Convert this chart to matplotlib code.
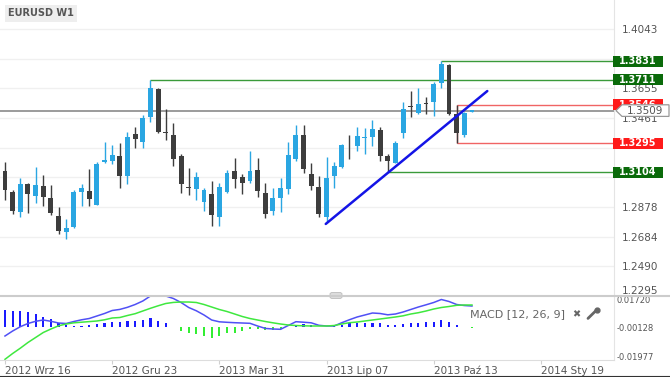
import matplotlib.pyplot as plt
import matplotlib.transforms as mtransforms
from matplotlib.patches import Rectangle, Polygon, FancyBboxPatch
from matplotlib.lines import Line2D
import numpy as np

# EURUSD weekly candles, week 0 = 2012 Wrz 16
opens = [1.3116, 1.2978, 1.2847, 1.3029, 1.2952, 1.3018, 1.2939, 1.2819, 1.2713, 1.2749,
         1.2974, 1.2983, 1.2891, 1.3171, 1.3179, 1.3212, 1.3083, 1.3356, 1.3305, 1.3465,
         1.3648, 1.3367, 1.3349, 1.3212, 1.3009, 1.2996, 1.2913, 1.2961, 1.2815, 1.2978,
         1.3114, 1.3073, 1.3048, 1.3120, 1.2972, 1.2852, 1.2935, 1.2994, 1.3190, 1.3349,
         1.3092, 1.3011, 1.2815, 1.3081, 1.3142, 1.3287, 1.3277, 1.3328, 1.3333, 1.3382,
         1.3212, 1.3169, 1.3360, 1.3541, 1.3491, 1.3561, 1.3563, 1.3688, 1.3807, 1.3487,
         1.3349, 1.3500]
highs = [1.3175, 1.2989, 1.3070, 1.3035, 1.3142, 1.3088, 1.3022, 1.2878, 1.2800, 1.2989,
         1.3029, 1.3125, 1.3171, 1.3305, 1.3284, 1.3299, 1.3367, 1.3404, 1.3480, 1.3711,
         1.3657, 1.3517, 1.3430, 1.3223, 1.3135, 1.3105, 1.3000, 1.3048, 1.3033, 1.3120,
         1.3201, 1.3094, 1.3245, 1.3197, 1.3033, 1.3000, 1.3066, 1.3305, 1.3415, 1.3415,
         1.3164, 1.3081, 1.3207, 1.3175, 1.3290, 1.3349, 1.3404, 1.3395, 1.3448, 1.3400,
         1.3223, 1.3313, 1.3563, 1.3637, 1.3655, 1.3600, 1.3698, 1.3831, 1.3814, 1.3546,
         1.3502, 1.3516]
lows = [1.2924, 1.2832, 1.2811, 1.2839, 1.2904, 1.2887, 1.2826, 1.2699, 1.2669, 1.2743,
        1.2887, 1.2887, 1.2888, 1.3164, 1.3157, 1.3004, 1.3027, 1.3262, 1.3266, 1.3436,
        1.3360, 1.3317, 1.3148, 1.2972, 1.2957, 1.2924, 1.2852, 1.2756, 1.2756, 1.2968,
        1.3000, 1.2963, 1.3037, 1.2941, 1.2804, 1.2826, 1.2847, 1.2963, 1.3181, 1.3099,
        1.2989, 1.2815, 1.2780, 1.3000, 1.3131, 1.3190, 1.3247, 1.3225, 1.3277, 1.3182,
        1.3104, 1.3164, 1.3332, 1.3469, 1.3485, 1.3485, 1.3474, 1.3655, 1.3483, 1.3295,
        1.3338, 1.3497]
closes = [1.2989, 1.2852, 1.3029, 1.2963, 1.3022, 1.2945, 1.2837, 1.2721, 1.2739, 1.2978,
          1.3004, 1.2930, 1.3160, 1.3184, 1.3218, 1.3083, 1.3336, 1.3325, 1.3459, 1.3655,
          1.3367, 1.3360, 1.3192, 1.3027, 1.3000, 1.3074, 1.2987, 1.2826, 1.3009, 1.3103,
          1.3063, 1.3037, 1.3116, 1.2985, 1.2832, 1.2939, 1.3000, 1.3218, 1.3349, 1.3125,
          1.3018, 1.2830, 1.3070, 1.3147, 1.3284, 1.3281, 1.3345, 1.3332, 1.3387, 1.3215,
          1.3179, 1.3300, 1.3517, 1.3531, 1.3550, 1.3552, 1.3681, 1.3812, 1.3485, 1.3362,
          1.3491, 1.3511]

# MACD [12, 26, 9]
macd = [-0.0068, -0.00356, -0.00077, 0.00131, 0.00274, 0.00358, 0.00274, 0.00163, 0.00131, 0.00261,
        0.00371, 0.00455, 0.00617, 0.0078, 0.00974, 0.01045, 0.01182, 0.01363, 0.0159, 0.01915,
        0.01947, 0.01915, 0.01752, 0.01493, 0.01169, 0.00955, 0.00682, 0.00358, 0.00241, 0.00209,
        0.00183, 0.00163, 0.00144, -0.00031, -0.00187, -0.00226, -0.00245, 0.00001, 0.00248, 0.00215,
        0.00176, 0.00014, -0.00031, -0.00031, 0.00183, 0.00377, 0.00553, 0.00682, 0.00812, 0.0078,
        0.00695, 0.00747, 0.00877, 0.01039, 0.01201, 0.01344, 0.01493, 0.01688, 0.01558, 0.01363,
        0.01298, 0.01266]
signal = [-0.02191, -0.01815, -0.01471, -0.01101, -0.00777, -0.00453, -0.00226, -0.00018, 0.00098, 0.00176,
          0.00215, 0.00254, 0.00293, 0.00371, 0.00488, 0.0052, 0.0065, 0.00767, 0.00942, 0.01117,
          0.01279, 0.01428, 0.01499, 0.01525, 0.01525, 0.01493, 0.01363, 0.01201, 0.01039, 0.00909,
          0.00747, 0.00585, 0.00455, 0.00358, 0.00261, 0.00176, 0.00098, 0.00034, 0.00001, -0.00018,
          -0.00031, -0.00031, -0.00031, 0.00001, 0.00098, 0.00183, 0.00228, 0.00293, 0.00358, 0.00423,
          0.00488, 0.00553, 0.0063, 0.00747, 0.00831, 0.00942, 0.01071, 0.01169, 0.01234, 0.01311,
          0.01331, 0.01331]
hist = [0.01135, 0.0109, 0.0109, 0.00986, 0.00876, 0.007, 0.00532, 0.00272, 0.00162, 0.00097,
        0.00097, 0.00162, 0.00227, 0.00311, 0.00376, 0.00376, 0.00441, 0.00441, 0.00486, 0.00597,
        0.00441, 0.00311, 0.00052, -0.00208, -0.00376, -0.00422, -0.00551, -0.007, -0.00551, -0.00376,
        -0.00337, -0.00208, -0.00117, -0.00117, -0.00162, -0.00162, -0.00117, 0.0003, 0.00162, 0.00227,
        0.00162, 0.00052, 0.00052, 0.0008, 0.00162, 0.00272, 0.00311, 0.00311, 0.00311, 0.00272,
        0.00162, 0.00162, 0.00227, 0.00272, 0.00311, 0.00376, 0.00376, 0.00486, 0.00376, 0.00162,
        0.0003, -0.00052]
hist_base = -0.00128

date_ticks = [0, 14, 28, 42, 56, 70]
date_labels = ["2012 Wrz 16", "2012 Gru 23", "2013 Mar 31", "2013 Lip 07", "2013 Paź 13", "2014 Sty 19"]
price_ticks = [1.4043, 1.3849, 1.3655, 1.3461, 1.3267, 1.3072, 1.2878, 1.2684, 1.2490, 1.2295]
# grid levels whose labels sit under the coloured level boxes
hidden_ticks = [1.3849, 1.3267, 1.3072]
macd_ticks = [0.01720, -0.00128, -0.01977]
macd_tick_labels = ["0.01720", "-0.00128", "-0.01977"]

# drawn levels
green_levels = [1.3831, 1.3711, 1.3104]
green_start = [57, 19, 50]
red_levels = [1.3546, 1.3295]
red_start = 59
last_price = 1.3509
trend_x = [41.9, 63.0]
trend_y = [1.2767, 1.3637]

BLUE = '#2aa6e2'
DARK = '#3d3d3d'
GREEN_BOX = '#0a6a0a'
RED_BOX = '#ff1a1a'
TXT = '#555555'

W, H = 670, 377
fig = plt.figure(figsize=(W / 100, H / 100), dpi=100)

x_lo, x_hi = -0.65, 79.55
y_lo, y_hi = 1.2292, 1.4233

ax = fig.add_axes([0, (H - 296.5) / H, 614 / W, 296.5 / H])
ax.set_xlim(x_lo, x_hi)
ax.set_ylim(y_lo, y_hi)

weeks = np.arange(len(opens))
o = np.array(opens)
c = np.array(closes)
cols = [BLUE if cc >= oo else DARK for oo, cc in zip(o, c)]
ax.vlines(weeks, lows, highs, colors=cols, linewidth=1.0, zorder=3)
ax.bar(weeks, np.maximum(np.abs(c - o), 0.0006), bottom=np.minimum(o, c),
       width=0.64, color=cols, linewidth=0, zorder=3)

# horizontal levels
ax.hlines(last_price, x_lo, x_hi, color='#8a8a8a', linewidth=1.2, zorder=2)
for p, s in zip(green_levels, green_start):
    ax.hlines(p, s, x_hi, color='#3a9a3a', linewidth=1.0, zorder=2)
ax.hlines(red_levels, red_start, x_hi, color='#f06464', linewidth=1.0, zorder=2)
ax.vlines(red_start, min(red_levels), max(red_levels), color='#f06464', linewidth=1.0, zorder=2)
ax.plot(trend_x, trend_y, color='#1414e6', linewidth=1.8, zorder=4, solid_capstyle='round')

ax.set_xticks([])
ax.set_yticks(price_ticks)
ax.set_yticklabels(['' if p in hidden_ticks else f'{p:.4f}' for p in price_ticks])
ax.yaxis.tick_right()
ax.tick_params(axis='y', length=0, pad=5.5, labelsize=7.5, labelcolor=TXT)
ax.get_yticklabels()[-1].set_va('bottom')
ax.grid(axis='y', color='#f0f0f0', linewidth=1.0)
ax.set_axisbelow(True)
for s in ['top', 'left', 'bottom']:
    ax.spines[s].set_visible(False)
ax.spines['right'].set_color('#e4e4e4')

# price boxes on the right axis
tr = mtransforms.blended_transform_factory(ax.transAxes, ax.transData)
px = (y_hi - y_lo) / 296.5
box_h = 11 * px
boxes = [(p, GREEN_BOX) for p in green_levels] + [(p, RED_BOX) for p in red_levels]
for p, col in boxes:
    ax.add_patch(Rectangle((613 / 614, p - box_h / 2), 50 / 614, box_h, transform=tr,
                           facecolor=col, edgecolor='none', clip_on=False, zorder=5))
    ax.text(638 / 614, p, f'{p:.4f}', transform=tr, ha='center', va='center',
            fontsize=7, fontweight='bold', color='white', clip_on=False, zorder=6)

hh = 5.8 * px
ax.add_patch(Polygon([(616 / 614, last_price), (622 / 614, last_price + hh), (669 / 614, last_price + hh),
                      (669 / 614, last_price - hh), (622 / 614, last_price - hh)], closed=True,
                     transform=tr, facecolor='white', edgecolor='#999999', linewidth=0.9,
                     clip_on=False, zorder=7))
ax.text(645 / 614, last_price, f'{last_price:.4f}', transform=tr, ha='center', va='center',
        fontsize=7.5, color=TXT, clip_on=False, zorder=8)

fig.text(8 / W, 1 - 13.5 / H, 'EURUSD W1', fontsize=7, fontweight='bold', color=TXT,
         va='center', ha='left',
         bbox=dict(facecolor='#eeeeee', edgecolor='none', boxstyle='square,pad=0.35'))

# MACD panel
ax2 = fig.add_axes([0, 17 / H, 614 / W, 63 / H])
ax2.set_xlim(x_lo, x_hi)
ax2.set_ylim(-0.02236, 0.0185)
hcols = ['#1a1aff' if v >= 0 else '#33ee33' for v in hist]
ax2.bar(weeks, hist, bottom=hist_base, width=0.28, color=hcols, linewidth=0)
ax2.plot(weeks, macd, color='#5050f5', linewidth=1.1)
ax2.plot(weeks, signal, color='#3fe83f', linewidth=1.1)

ax2.set_yticks(macd_ticks)
ax2.set_yticklabels(macd_tick_labels)
ax2.yaxis.tick_right()
ax2.tick_params(axis='y', length=0, pad=2, labelsize=6, labelcolor=TXT)
ax2.set_xticks(date_ticks)
ax2.set_xticklabels(date_labels)
ax2.tick_params(axis='x', length=3, width=0.8, color='#d0d0d0', pad=1.5,
                labelsize=7.5, labelcolor=TXT)
for lbl in ax2.get_xticklabels():
    lbl.set_ha('left')
for s in ['top', 'left']:
    ax2.spines[s].set_visible(False)
ax2.spines['bottom'].set_color('#dddddd')
ax2.spines['right'].set_color('#e4e4e4')

ax2.text(470 / 614, 0.73, 'MACD [12, 26, 9]', transform=ax2.transAxes, fontsize=8,
         color='#666666', va='center', ha='left')
ax2.text(572 / 614, 0.73, '✖', transform=ax2.transAxes, fontsize=7,
         color='#666666', va='center', ha='left')
ax2.plot([588 / 614, 597 / 614], [0.66, 0.80], transform=ax2.transAxes, color='#666666',
         linewidth=2.0, solid_capstyle='round', clip_on=False)
ax2.plot([597 / 614], [0.80], 'o', transform=ax2.transAxes, color='#666666',
         markersize=3.5, clip_on=False)

# separator between panels and frame bottom
fig.add_artist(Line2D([0, 1], [(H - 295.5) / H] * 2, color='#cccccc', linewidth=1.5))
fig.add_artist(FancyBboxPatch((330 / W, (H - 298.5) / H), 12 / W, 6 / H,
                              boxstyle='round,pad=0,rounding_size=0.004', transform=fig.transFigure,
                              facecolor='#dcdcdc', edgecolor='#bbbbbb', linewidth=0.6))
fig.add_artist(Line2D([0, 1], [0.6 / H] * 2, color='#333333', linewidth=0.8))

fig.savefig('out.png', dpi=100)
